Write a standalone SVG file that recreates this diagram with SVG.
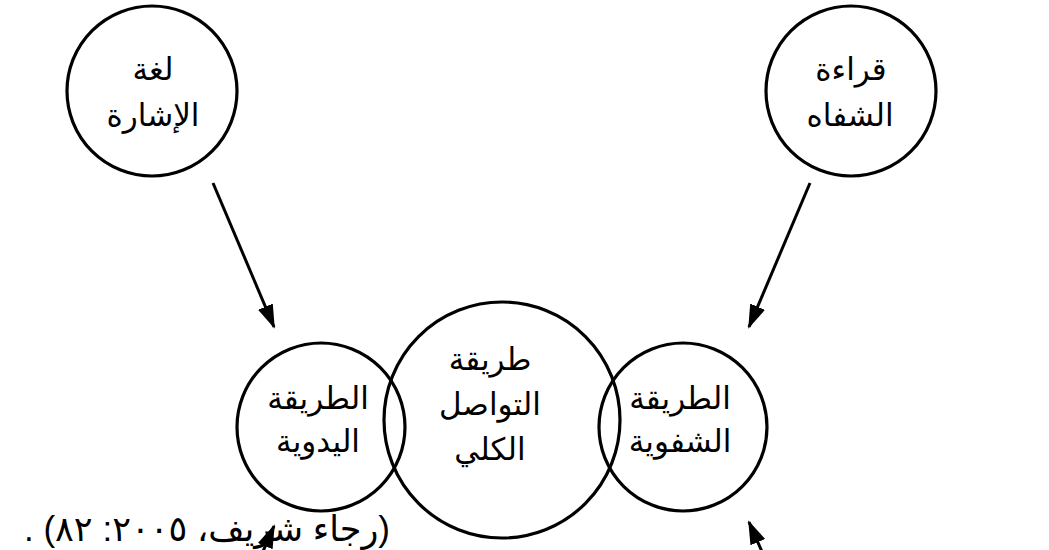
<svg xmlns="http://www.w3.org/2000/svg" width="1049" height="550" viewBox="0 0 1049 550">
<defs>
<style>
.c{fill:#fff;fill-opacity:0;stroke:#000;stroke-width:3.2}
.t{font-family:"Liberation Sans","DejaVu Sans",Arial,sans-serif;font-size:31px;fill:#000;text-anchor:middle}
.cite{font-family:"Liberation Sans","DejaVu Sans",Arial,sans-serif;font-size:35px;fill:#000}
.a{stroke:#000;stroke-width:3;fill:none;marker-end:url(#ah)}
</style>
<marker id="ah" markerUnits="userSpaceOnUse" markerWidth="24" markerHeight="20" viewBox="0 0 24 20" refX="22" refY="10" orient="auto">
<path d="M0,2 L24,10 L0,18 Z" fill="#000"/>
</marker>
</defs>
<rect width="1049" height="550" fill="#fff"/>
<g id="connectors">
<line class="a" x1="213" y1="183" x2="274" y2="327"/>
<line class="a" x1="810" y1="183" x2="749" y2="327"/>
<line class="a" x1="254" y1="572" x2="274" y2="526"/>
<line class="a" x1="770" y1="570" x2="749" y2="522"/>
</g>
<g id="sign-language">
<circle class="c" cx="152" cy="91" r="85"/>
<text class="t" x="153" y="80">لغة</text>
<text class="t" x="153" y="126">الإشارة</text>
</g>
<g id="lip-reading">
<circle class="c" cx="851" cy="91" r="85"/>
<text class="t" x="851" y="80">قراءة</text>
<text class="t" x="850" y="126">الشفاه</text>
</g>
<g id="manual-method">
<circle class="c" cx="321" cy="427" r="84"/>
<text class="t" x="318" y="409">الطريقة</text>
<text class="t" x="318" y="452">اليدوية</text>
</g>
<g id="total-communication">
<circle class="c" cx="502" cy="420" r="118"/>
<text class="t" x="490" y="370">طريقة</text>
<text class="t" x="490" y="415">التواصل</text>
<text class="t" x="490" y="460">الكلي</text>
</g>
<g id="oral-method">
<circle class="c" cx="683" cy="427" r="84"/>
<text class="t" x="680" y="409">الطريقة</text>
<text class="t" x="680" y="452">الشفوية</text>
</g>
<g id="citation">
<text class="cite" x="390" y="541" direction="rtl" text-anchor="start">(رجاء شريف، ٢٠٠٥: ٨٢) .</text>
</g>
</svg>
